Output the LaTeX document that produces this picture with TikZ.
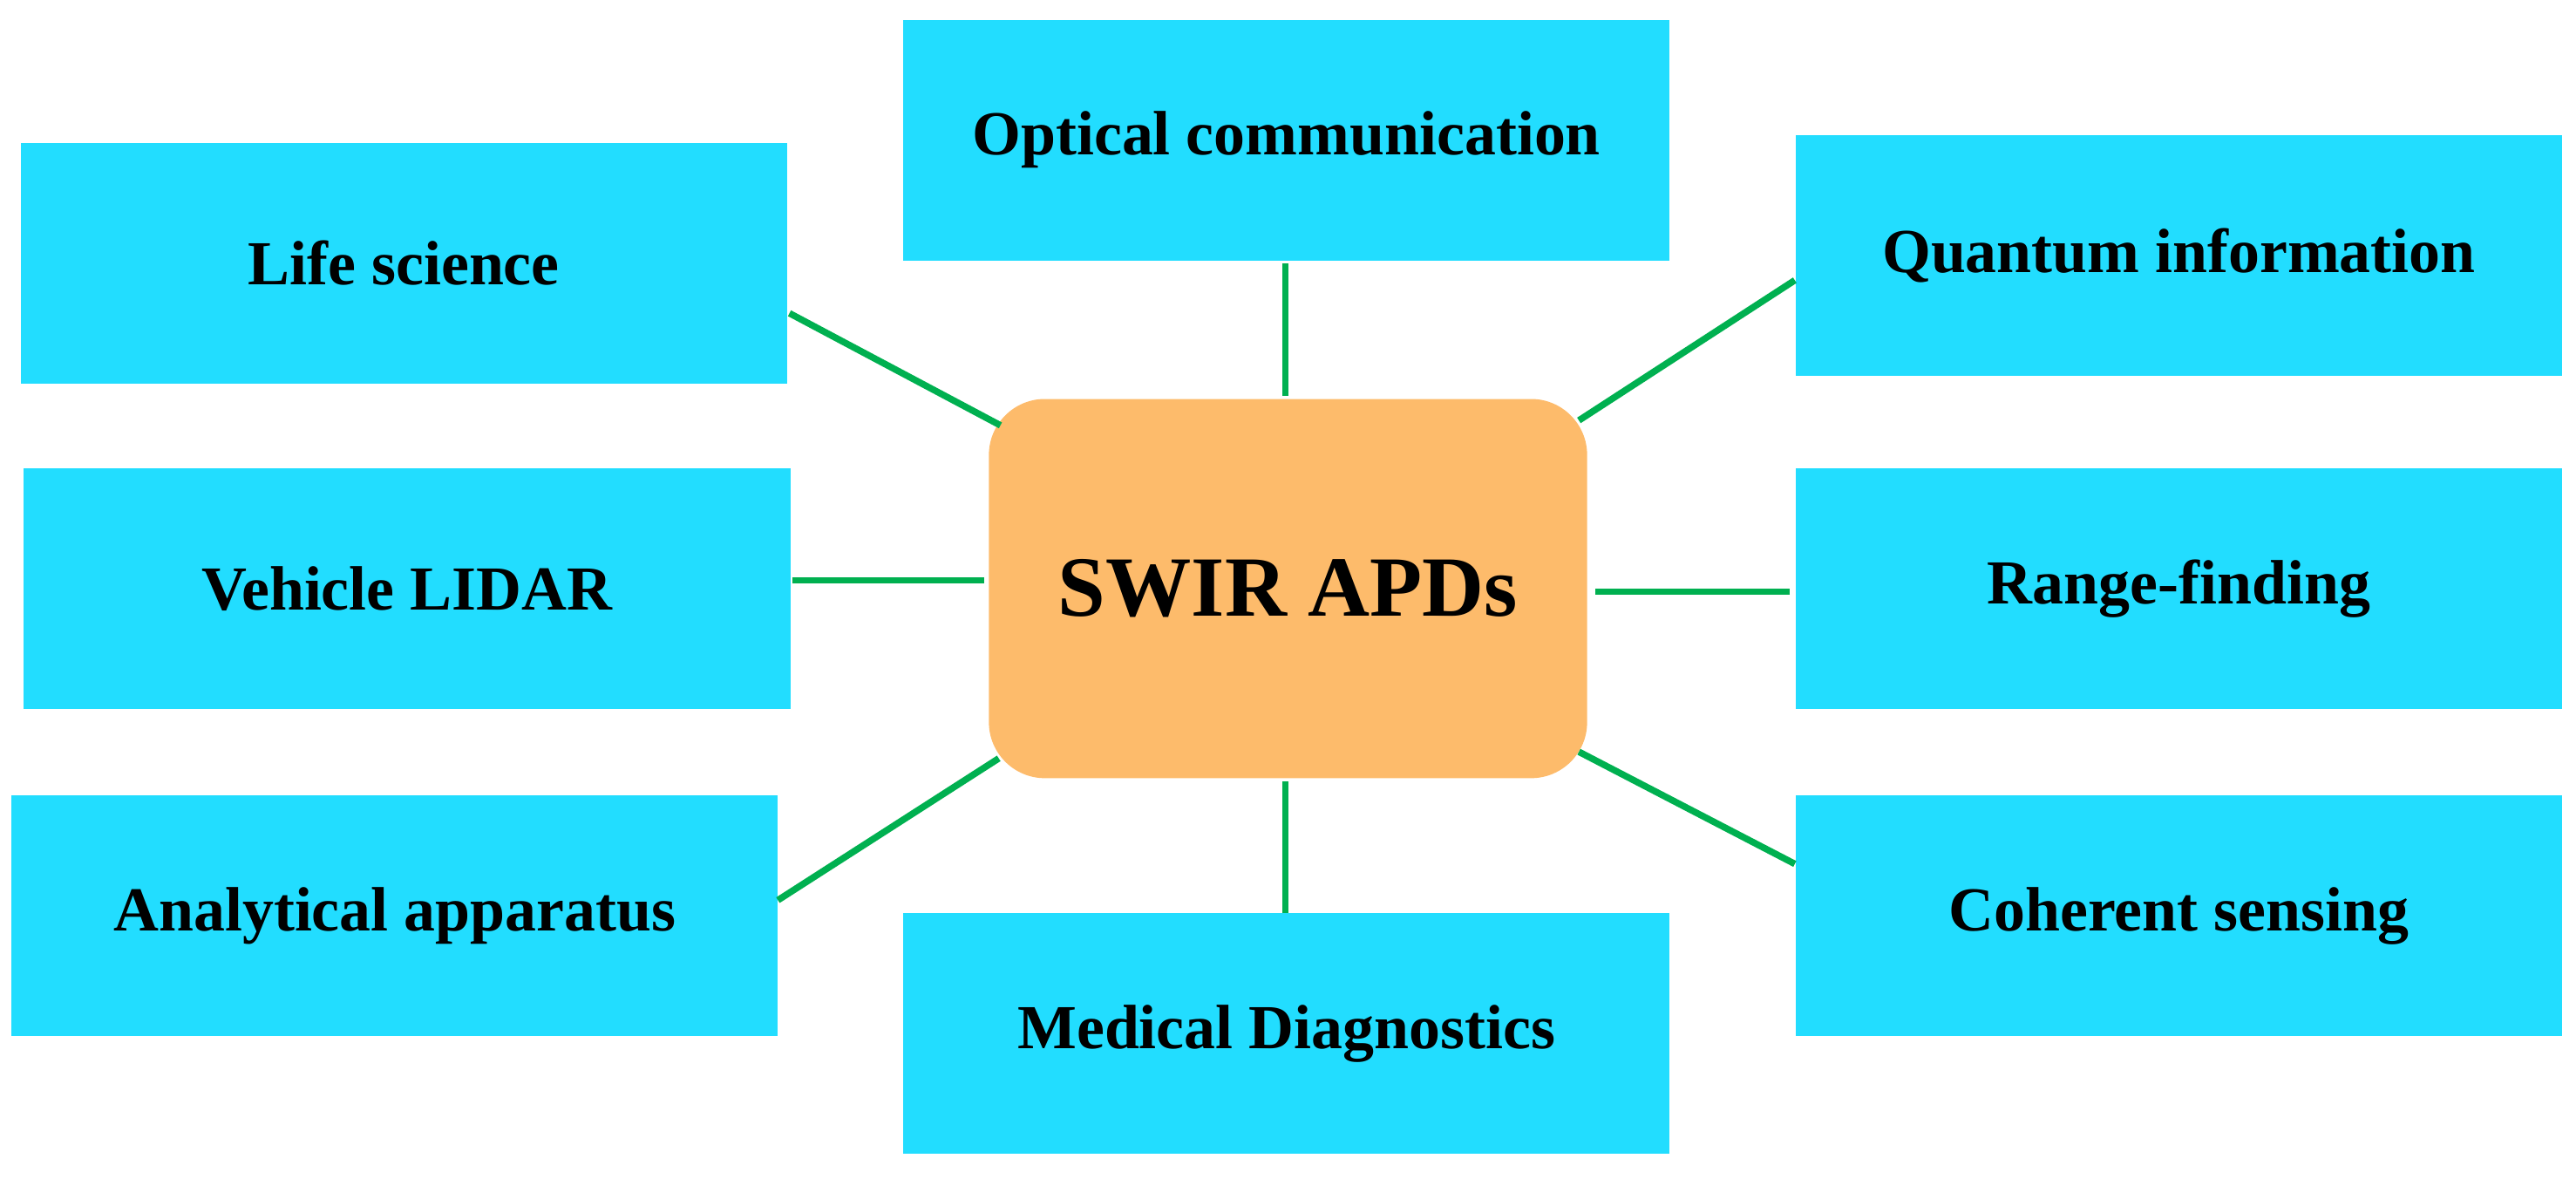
\documentclass[tikz,border=0pt]{standalone}
\usepackage{fontspec}
\setmainfont{Liberation Serif}
\definecolor{boxc}{HTML}{22DDFF}
\definecolor{ctr}{HTML}{FDBB6B}
\definecolor{lnc}{HTML}{00B050}
\begin{document}
\begin{tikzpicture}[x=0.5pt,y=-0.5pt,
  app/.style={fill=boxc,draw=none,minimum width=232.5pt,minimum height=73pt,font=\bfseries\fontsize{19}{22}\selectfont,inner sep=0pt},
  link/.style={draw=lnc,line width=2pt}]
\useasboundingbox (0,0) rectangle (1563,715);
\node[app] (opt) at (780.5,85) {Optical communication};
\node[app] (life) at (245,159.5) {Life science};
\node[app] (quan) at (1322,155) {Quantum information};
\node[app] (veh) at (247,357) {Vehicle LIDAR};
\node[app] (rng) at (1322,357) {Range-finding};
\node[app] (ana) at (239.5,555.5) {Analytical apparatus};
\node[app] (coh) at (1322,555.5) {Coherent sensing};
\node[app] (med) at (780.5,627) {Medical Diagnostics};
\node[fill=ctr,rounded corners=17pt,minimum width=181.5pt,minimum height=115pt,font=\bfseries\fontsize{26}{30}\selectfont] (c) at (781.5,357) {SWIR APDs};
\coordinate (a1) at (780,160); \coordinate (b1) at (780,240);
\coordinate (a2) at (479,190); \coordinate (b2) at (607,258);
\coordinate (a3) at (1089,170); \coordinate (b3) at (958,255);
\coordinate (a4) at (481,352); \coordinate (b4) at (597,352);
\coordinate (a5) at (1086,359); \coordinate (b5) at (968,359);
\coordinate (a6) at (472,546); \coordinate (b6) at (606,460);
\coordinate (a7) at (1089,524); \coordinate (b7) at (958,456);
\coordinate (a8) at (780,554); \coordinate (b8) at (780,474);
\foreach \i in {1,...,8} \draw[link] (a\i) -- (b\i);
\end{tikzpicture}
\end{document}
